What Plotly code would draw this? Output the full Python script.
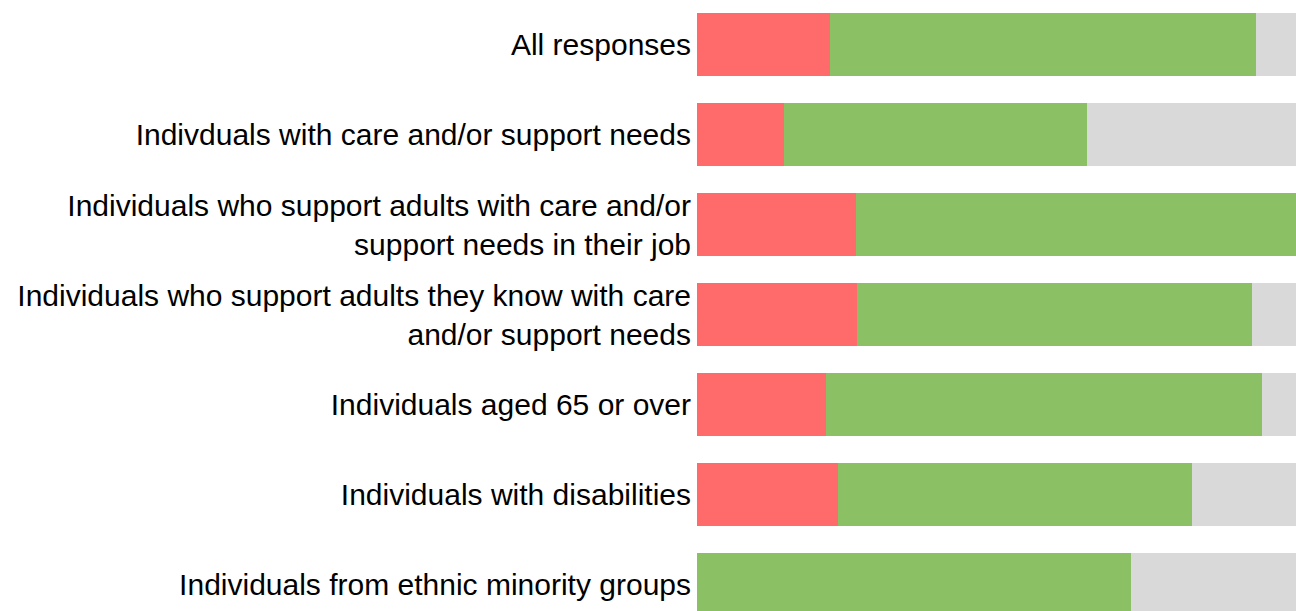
import plotly.graph_objects as go

categories = [
    "All responses",
    "Indivduals with care and/or support needs",
    "Individuals who support adults with care and/or<br>support needs in their job",
    "Individuals who support adults they know with care<br>and/or support needs",
    "Individuals aged 65 or over",
    "Individuals with disabilities",
    "Individuals from ethnic minority groups",
]
red_values = [22.2, 14.5, 26.5, 26.7, 21.5, 23.5, 0.0]
green_values = [71.1, 50.6, 73.5, 65.9, 72.8, 59.1, 72.4]
grey_values = [6.7, 34.9, 0.0, 7.4, 5.7, 17.4, 27.6]

series = [
    ("Disagree", red_values, "#FF6A6A"),
    ("Agree", green_values, "#8BC164"),
    ("Don't know", grey_values, "#D9D9D9"),
]

fig = go.Figure()
for name, vals, col in series:
    fig.add_trace(go.Bar(
        y=categories, x=vals, name=name, orientation="h",
        marker=dict(color=col, line=dict(width=0)),
        width=0.7,
    ))

fig.update_layout(
    barmode="stack",
    width=1296, height=611,
    margin=dict(l=697, r=0, t=0, b=0, pad=0),
    paper_bgcolor="white", plot_bgcolor="white",
    showlegend=False,
    font=dict(family="Liberation Sans, Arial, sans-serif", size=30, color="#000000"),
)
fig.update_xaxes(range=[0, 100], visible=False, showgrid=False, zeroline=False)
fig.update_yaxes(
    type="category",
    range=[6.2944, -0.4944],
    showgrid=False, zeroline=False, showline=False,
    ticks="", ticklabelstandoff=5,
    tickfont=dict(size=30, color="#000000"),
    automargin=False,
)

fig.write_html(
    "out.html",
    config={"displayModeBar": False},
    post_script="document.body.style.margin='0';document.body.style.overflow='hidden';",
)
